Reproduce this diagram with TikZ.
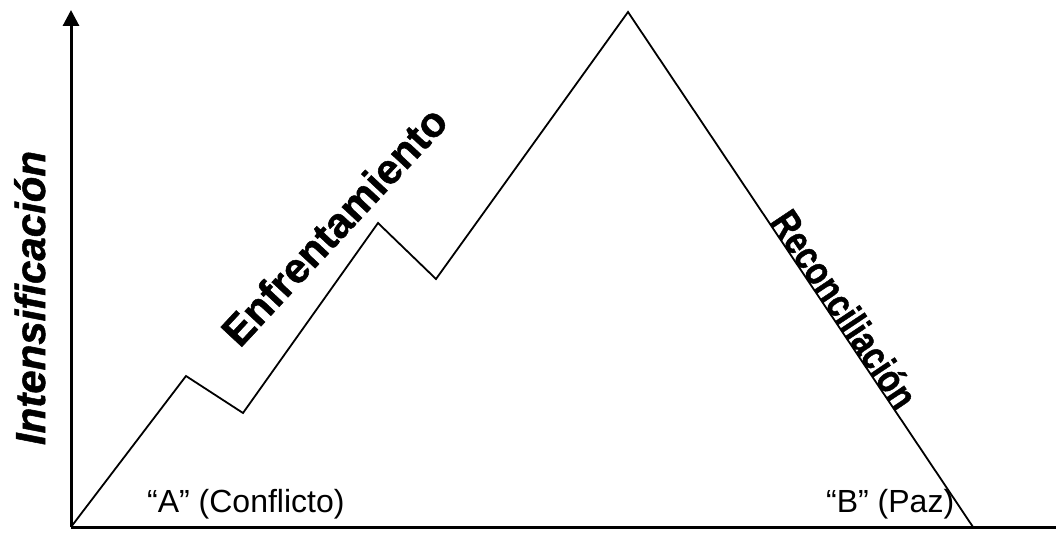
\documentclass[tikz,border=0pt]{standalone}
\usepackage{fontspec}
\setmainfont{Liberation Sans}
\newfontfamily\heavy{Liberation Sans}[BoldFeatures={FakeBold=1.2},BoldItalicFeatures={FakeBold=1.2}]
\usetikzlibrary{arrows.meta}
\begin{document}
\begin{tikzpicture}[x=1pt,y=-1pt,
  axis/.style={line width=3pt,-{Triangle[length=16pt,width=16pt]}},
  zig/.style={line width=1.8pt,line join=miter},
  lbl/.style={inner sep=0pt,font=\fontsize{32}{36}\selectfont},
  big/.style={inner sep=0pt,font=\fontsize{42}{46}\selectfont\heavy\bfseries}]
\useasboundingbox (0,0) rectangle (1056,534);
\clip (0,0) rectangle (1056,534);
\fill[white] (0,0) rectangle (1056,534);
\coordinate (o) at (71,527);
\coordinate (ytip) at (71,10);
\coordinate (xtip) at (1072,527);
\coordinate (p1) at (186,376);
\coordinate (v1) at (243,413);
\coordinate (p2) at (378,223);
\coordinate (v2) at (436,279);
\coordinate (top) at (628,12);
\coordinate (e) at (973,527);
\draw[zig] (o) -- (p1) -- (v1) -- (p2) -- (v2) -- (top) -- (e);
\draw[axis] (o) -- (ytip);
\draw[axis] (o) -- (xtip);
\node[big,font=\fontsize{42}{46}\selectfont\heavy\bfseries\itshape,rotate=90,anchor=base] (int) at (45,298) {Intensificación};
\node[big,rotate=47] (enf) at (334,226) {Enfrentamiento};
\node[big,font=\fontsize{40}{44}\selectfont\heavy\bfseries,rotate=-56.2,xscale=0.81,anchor=base west] (rec) at (769,222) {Reconciliación};
\node[lbl,anchor=base west] (a) at (147,512) {“A” (Conflicto)};
\node[lbl,anchor=base west] (b) at (826,512) {“B” (Paz)};
\end{tikzpicture}
\end{document}
